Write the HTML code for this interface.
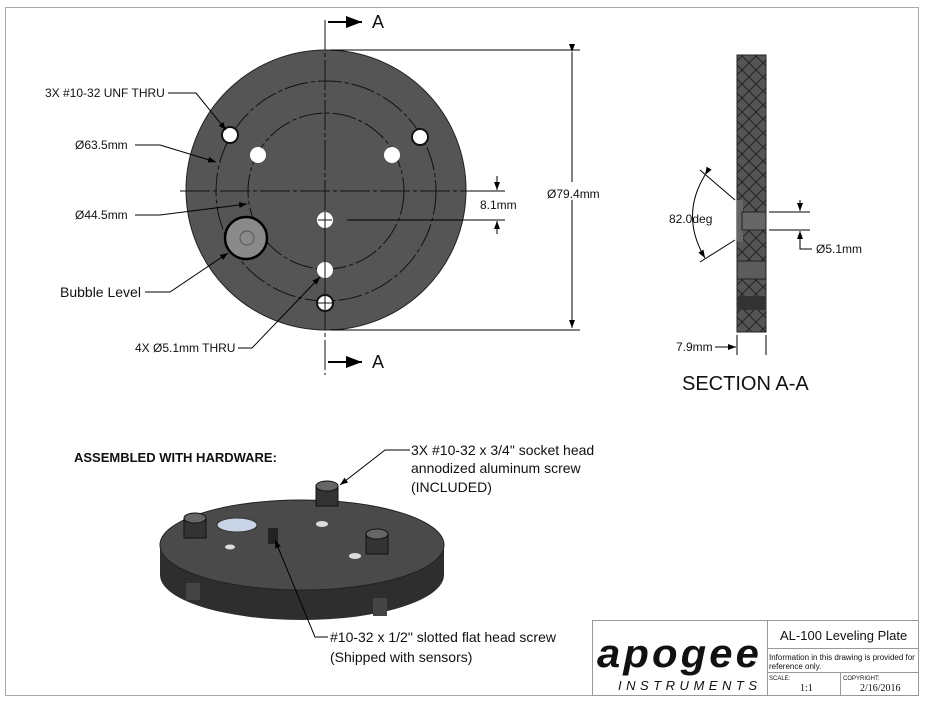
<!DOCTYPE html>
<html><head><style>
body{margin:0;background:#fff}
svg text{font-family:"Liberation Sans",sans-serif;fill:#111}
</style></head><body>
<svg width="926" height="703" xmlns="http://www.w3.org/2000/svg">
<defs>
<pattern id="hatch" width="14" height="14" patternUnits="userSpaceOnUse">
<rect width="14" height="14" fill="#555"/>
<path d="M0 0L14 14M14 0L0 14" stroke="#222" stroke-width="1"/>
</pattern>
<marker id="ar" markerWidth="8" markerHeight="6" refX="8" refY="3" orient="auto"><path d="M0 0L8 3L0 6z" fill="#000"/></marker>
</defs>
<rect x="5.5" y="7.5" width="913" height="688" fill="none" stroke="#aaa"/>
<!-- main plate -->
<circle cx="326" cy="190" r="140" fill="#555" stroke="#222"/>
<circle cx="326" cy="191" r="110" fill="none" stroke="#111" stroke-dasharray="24 3 4 3"/>
<circle cx="326" cy="191" r="78" fill="none" stroke="#111" stroke-dasharray="24 3 4 3"/>
<line x1="180" y1="191" x2="475" y2="191" stroke="#111" stroke-dasharray="30 3 4 3"/>
<line x1="325" y1="20" x2="325" y2="375" stroke="#111" stroke-dasharray="30 3 4 3"/>
<g fill="#fff" stroke="#111">
<circle cx="230" cy="135" r="8" stroke-width="2"/><circle cx="420" cy="137" r="8" stroke-width="2"/>
<circle cx="258" cy="155" r="8" stroke="none"/><circle cx="392" cy="155" r="8" stroke="none"/>
<circle cx="325" cy="220" r="8" stroke="none"/><circle cx="325" cy="270" r="8" stroke="none"/><circle cx="325" cy="303" r="8" stroke-width="2"/>
</g>
<g stroke="#111"><line x1="318" y1="220" x2="332" y2="220"/><line x1="325" y1="212" x2="325" y2="310"/><line x1="318" y1="303" x2="332" y2="303"/></g>
<circle cx="246" cy="238" r="21" fill="#8a8a8a" stroke="#000" stroke-width="2.5"/>
<circle cx="247" cy="238" r="7" fill="none" stroke="#555"/>
<!-- section arrows -->
<line x1="328" y1="22" x2="362" y2="22" stroke="#000" stroke-width="2" marker-end="url(#ar)"/>
<text x="372" y="28" font-size="18">A</text>
<line x1="328" y1="362" x2="362" y2="362" stroke="#000" stroke-width="2" marker-end="url(#ar)"/>
<text x="372" y="368" font-size="18">A</text>
<!-- dims -->
<g stroke="#000" fill="none">
<line x1="330" y1="50" x2="580" y2="50"/><line x1="330" y1="330" x2="580" y2="330"/>
<line x1="572" y1="52" x2="572" y2="182" marker-start="url(#ar)"/><line x1="572" y1="200" x2="572" y2="328" marker-end="url(#ar)"/>
<line x1="347" y1="220" x2="505" y2="220"/><line x1="470" y1="191" x2="505" y2="191"/>
<line x1="497" y1="176" x2="497" y2="190" marker-end="url(#ar)"/><line x1="497" y1="234" x2="497" y2="221" marker-end="url(#ar)"/>
<polyline points="168,93 196,93 226,130" marker-end="url(#ar)"/>
<polyline points="135,145 160,145 216,162" marker-end="url(#ar)"/>
<polyline points="135,215 160,215 247,204" marker-end="url(#ar)"/>
<polyline points="145,292 170,292 228,253" marker-end="url(#ar)"/>
<polyline points="238,348 252,348 320,277" marker-end="url(#ar)"/>
</g>
<text x="547" y="198" font-size="12">Ø79.4mm</text>
<text x="480" y="209" font-size="12">8.1mm</text>
<text x="45" y="97" font-size="12">3X #10-32 UNF THRU</text>
<text x="75" y="149" font-size="12">Ø63.5mm</text>
<text x="75" y="219" font-size="12">Ø44.5mm</text>
<text x="60" y="297" font-size="14">Bubble Level</text>
<text x="135" y="352" font-size="12">4X Ø5.1mm THRU</text>
<!-- section -->
<rect x="737" y="55" width="29" height="277" fill="url(#hatch)" stroke="#222"/>
<rect x="737" y="200" width="6" height="42" fill="#666"/>
<rect x="742" y="212" width="24" height="18" fill="#666" stroke="#222"/>
<rect x="737" y="261" width="29" height="18" fill="#5c5c5c" stroke="#222"/>
<rect x="738" y="296" width="27" height="14" fill="#333"/>
<g stroke="#000" fill="none">
<line x1="769" y1="212" x2="810" y2="212"/><line x1="769" y1="230" x2="810" y2="230"/>
<line x1="800" y1="200" x2="800" y2="211" marker-end="url(#ar)"/><polyline points="812,249 800,249 800,231" marker-end="url(#ar)"/>
<line x1="700" y1="170" x2="735" y2="200"/><line x1="700" y1="262" x2="735" y2="240"/>
<path d="M705 175 Q680 216 705 258" marker-start="url(#ar)" marker-end="url(#ar)"/>
<line x1="737" y1="335" x2="737" y2="355"/><line x1="766" y1="335" x2="766" y2="355"/>
<line x1="715" y1="347" x2="736" y2="347" marker-end="url(#ar)"/><line x1="766" y1="347" x2="766" y2="347"/>
</g>
<text x="669" y="223" font-size="12">82.0deg</text>
<text x="816" y="253" font-size="12">Ø5.1mm</text>
<text x="676" y="351" font-size="12">7.9mm</text>
<text x="682" y="390" font-size="20">SECTION A-A</text>
<!-- assembled -->
<text x="74" y="462" font-size="13" font-weight="bold">ASSEMBLED WITH HARDWARE:</text>
<path d="M160 545 L160 575 A142 45 0 0 0 444 575 L444 545Z" fill="#2e2e2e"/>
<ellipse cx="302" cy="545" rx="142" ry="45" fill="#4a4a4a" stroke="#222"/>
<rect x="186" y="583" width="14" height="17" fill="#444"/><rect x="373" y="598" width="14" height="18" fill="#444"/>
<ellipse cx="237" cy="525" rx="20" ry="7" fill="#c8d4e6" stroke="#333"/>
<rect x="268" y="528" width="10" height="16" fill="#222"/>
<g fill="#333" stroke="#111">
<rect x="316" y="486" width="22" height="20"/><ellipse cx="327" cy="486" rx="11" ry="5" fill="#666"/>
<rect x="184" y="518" width="22" height="20"/><ellipse cx="195" cy="518" rx="11" ry="5" fill="#666"/>
<rect x="366" y="534" width="22" height="20"/><ellipse cx="377" cy="534" rx="11" ry="5" fill="#666"/>
</g>
<ellipse cx="322" cy="524" rx="6" ry="3" fill="#ddd"/><ellipse cx="230" cy="547" rx="5" ry="2.5" fill="#ddd"/><ellipse cx="355" cy="556" rx="6" ry="3" fill="#ddd"/>
<g stroke="#000" fill="none">
<polyline points="410,450 385,450 340,485" marker-end="url(#ar)"/>
<polyline points="328,637 315,637 275,540" marker-end="url(#ar)"/>
</g>
<text x="411" y="455" font-size="14">3X #10-32 x 3/4" socket head</text>
<text x="411" y="473" font-size="14">annodized aluminum screw</text>
<text x="411" y="492" font-size="14">(INCLUDED)</text>
<text x="330" y="642" font-size="14">#10-32 x 1/2" slotted flat head screw</text>
<text x="330" y="662" font-size="14">(Shipped with sensors)</text>
<!-- title block -->
<g stroke="#999" fill="none">
<rect x="592.5" y="620.5" width="326" height="75"/>
<line x1="767.5" y1="620" x2="767.5" y2="695"/>
<line x1="767" y1="648.5" x2="918" y2="648.5"/><line x1="767" y1="672.5" x2="918" y2="672.5"/>
<line x1="840.5" y1="672" x2="840.5" y2="695"/>
</g>
<text x="597" y="667" font-size="40" font-weight="bold" font-style="italic" letter-spacing="3" textLength="165" lengthAdjust="spacingAndGlyphs">apogee</text>
<text x="618" y="690" font-size="13" font-style="italic" textLength="139" lengthAdjust="spacing">INSTRUMENTS</text>
<text x="780" y="640" font-size="13">AL-100 Leveling Plate</text>
<text x="769" y="660" font-size="8">Information in this drawing is provided for</text>
<text x="769" y="669" font-size="8">reference only.</text>
<text x="769" y="680" font-size="6">SCALE:</text>
<text x="800" y="691" font-size="10" style="font-family:'Liberation Serif',serif">1:1</text>
<text x="843" y="680" font-size="6">COPYRIGHT:</text>
<text x="860" y="691" font-size="10" style="font-family:'Liberation Serif',serif">2/16/2016</text>
</svg>
</body></html>
